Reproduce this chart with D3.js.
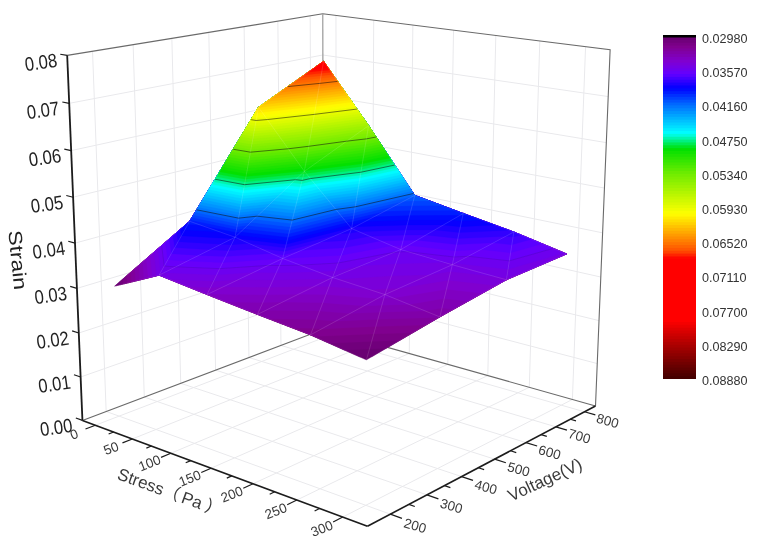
<!DOCTYPE html>
<html><head><meta charset="utf-8">
<script src="https://cdn.jsdelivr.net/npm/d3@7"></script>
<style>html,body{margin:0;padding:0;background:#fff}svg{display:block;filter:blur(.4px)}text{font-family:"Liberation Sans",Arial,sans-serif}</style>
</head><body><svg id="c" width="758" height="548"></svg>
<script>
// ---- data ----
const stressValues=[0,60,120,180,240,300];
const voltageValues=[200,400,600,800];
const strainAt200V=[.0297,.0350,.0337,.0325,.0314,.0296];
const strainAt400V=[.0394,.0383,.0362,.0348,.0340,.0323];
const strainAt600V=[.0618,.0489,.0380,.0358,.0351,.0346];
const strainAt800V=[.0695,.0558,.0412,.0393,.0375,.0351];
const strainRows=[strainAt200V,strainAt400V,strainAt600V,strainAt800V];
const stressTicks=[0,50,100,150,200,250,300];
const stressMinor=[25,75,125,175,225,275];
const voltageTicks=[200,300,400,500,600,700,800];
const voltageMinor=[250,350,450,550,650,750];
const strainTicks=[0,.01,.02,.03,.04,.05,.06,.07,.08];
const legendLabels=["0.02980","0.03570","0.04160","0.04750","0.05340","0.05930","0.06520","0.07110","0.07700","0.08290","0.08880"];
const colorValues=[.0298,.0315,.0340,.0362,.0386,.0416,.0464,.0491,.0534,.0603,.0638,.0667,.0680,.0788,.0810,.0888];
const colorStops=["#66006e","#80008e","#8000d0","#6400ff","#0000ff","#0070ff","#00ffff","#00e000","#70ec00","#ffff00","#ffa000","#ff5000","#ff0000","#ff0000","#d00000","#400000"];
const contourLevels=[.0357,.0416,.0475,.0534,.0593,.0652];
// ---- camera: cube corners to their places on the page ----
const cornersModel=[[0,0,0],[1,0,0],[1,1,0],[0,1,0],[0,0,1],[0,1,1],[1,1,1]];
const cornersScreen=[[83,421],[367,526],[596,406],[323,329],[67,55],[323,14],[610,50]];
const sU=d3.scaleLinear([-18,326],[0,1]),sV=d3.scaleLinear([140,840],[0,1]),sW=d3.scaleLinear([0,.08],[0,1]);
function solve(A,b){const n=b.length;const M=A.map((r,i)=>[...r,b[i]]);for(let c=0;c<n;c++){let q=c;for(let r=c+1;r<n;r++)if(Math.abs(M[r][c])>Math.abs(M[q][c]))q=r;[M[c],M[q]]=[M[q],M[c]];for(let r=0;r<n;r++){if(r==c)continue;const f=M[r][c]/M[c][c];for(let k=c;k<=n;k++)M[r][k]-=f*M[c][k];}}return M.map((r,i)=>r[n]/r[i]);}
const eqs=[],rhs=[];cornersModel.forEach(([X,Y,Z],i)=>{const [x,y]=cornersScreen[i];eqs.push([X,Y,Z,1,0,0,0,0,-x*X,-x*Y,-x*Z]);rhs.push(x);eqs.push([0,0,0,0,X,Y,Z,1,-y*X,-y*Y,-y*Z]);rhs.push(y);});
const p=solve(d3.range(11).map(i=>d3.range(11).map(j=>d3.sum(eqs,r=>r[i]*r[j]))),d3.range(11).map(i=>d3.sum(eqs,(r,k)=>r[i]*rhs[k])));
function prU([U,V,W]){const d=p[8]*U+p[9]*V+p[10]*W+1;return [(p[0]*U+p[1]*V+p[2]*W+p[3])/d,(p[4]*U+p[5]*V+p[6]*W+p[7])/d];}
const pr=(s,v,z)=>prU([sU(s),sV(v),sW(z)]);
const line=d3.line();
const svg=d3.select("#c");
const seg=(pts,o)=>{const e=svg.append("path").attr("d",line(pts)).attr("fill","none");for(const k in o)e.attr(k,o[k]);return e;};
// ---- walls and floor ----
const sLo=sU.invert(0),sHi=sU.invert(1),vLo=sV.invert(0),vHi=sV.invert(1),zHi=sW.invert(1);
const gridStyle={stroke:"#e9e9ec","stroke-width":1};
stressTicks.forEach(s=>{seg([pr(s,vLo,0),pr(s,vHi,0)],gridStyle);seg([pr(s,vHi,0),pr(s,vHi,zHi)],gridStyle);});
voltageTicks.forEach(v=>{seg([pr(sLo,v,0),pr(sHi,v,0)],gridStyle);seg([pr(sLo,v,0),pr(sLo,v,zHi)],gridStyle);});
strainTicks.slice(1,-1).forEach(z=>{seg([pr(sLo,vLo,z),pr(sLo,vHi,z),pr(sHi,vHi,z)],gridStyle);});
const edge={stroke:"#6a6a6a","stroke-width":1.1};
seg([pr(sLo,vLo,zHi),pr(sLo,vHi,zHi),pr(sHi,vHi,zHi),pr(sHi,vHi,0)],edge);
seg([pr(sLo,vLo,0),pr(sLo,vHi,0),pr(sHi,vHi,0)],edge);
seg([pr(sLo,vHi,0),pr(sLo,vHi,zHi)],{stroke:"#a8a8a8","stroke-width":1.4});
// ---- surface ----
const colorOf=d3.scaleLinear(colorValues,colorStops).interpolate(d3.interpolateRgb).clamp(true);
const bandStep=.0059/12;
const bandEdges=d3.range(0,121).map(i=>.0298+i*bandStep);
const tris=[];
for(let j=0;j<voltageValues.length-1;j++)for(let i=0;i<stressValues.length-1;i++){
 const P=(a,b)=>[stressValues[a],voltageValues[b],strainRows[b][a]];
 tris.push([P(i,j),P(i+1,j),P(i,j+1)]);
 tris.push([P(i+1,j),P(i+1,j+1),P(i,j+1)]);
}
const lerp=(a,b,t)=>a.map((c,k)=>c+(b[k]-c)*t);
function clipAbove(poly,level){const out=[];poly.forEach((a,i)=>{const b=poly[(i+1)%poly.length];const ia=a[2]>=level,ib=b[2]>=level;if(ia)out.push(a);if(ia!==ib)out.push(lerp(a,b,(level-a[2])/(b[2]-a[2])));});return out;}
// bands are painted low to high, each covering everything above its own lower level
const toPath=g=>line(g.map(q=>pr(...q)))+"Z";
const surfaceLayers=[{lo:0,c:colorOf(.0298)},...bandEdges.slice(0,-1).map(lo=>({lo,c:colorOf(lo+bandStep/2)}))]
 .map(b=>({c:b.c,d:tris.map(t=>clipAbove(t,b.lo)).filter(g=>g.length>2).map(toPath).join("")})).filter(b=>b.d);
svg.append("g").selectAll("path").data(surfaceLayers).join("path")
 .attr("d",d=>d.d).attr("fill",d=>d.c).attr("stroke",d=>d.c).attr("stroke-width",.3);
// mesh lines
const meshG=svg.append("g").attr("fill","none").attr("stroke","#fff").attr("stroke-opacity",.08).attr("stroke-width",.9);
tris.forEach(t=>meshG.append("path").attr("d",toPath(t)));
// contours
const contourG=svg.append("g").attr("fill","none").attr("stroke","#111").attr("stroke-width",.9);
contourLevels.forEach((lv,n)=>{const segs=[];tris.forEach(t=>{const c=[];t.forEach((a,i)=>{const b=t[(i+1)%3];if((a[2]-lv)*(b[2]-lv)<0)c.push(lerp(a,b,(lv-a[2])/(b[2]-a[2])));});if(c.length==2)segs.push(line(c.map(q=>pr(...q))));});
 contourG.append("path").attr("d",segs.join("")).attr("stroke-opacity",n==0?.12:.6);});
// ---- axes ----
const axisStyle={stroke:"#1c1c1c","stroke-width":1.6};
seg([pr(sLo,vLo,0),pr(sLo,vLo,zHi)],{stroke:"#1c1c1c","stroke-width":1.8});
seg([pr(sLo,vLo,0),pr(sHi,vLo,0)],axisStyle);
seg([pr(sHi,vLo,0),pr(sHi,vHi,0)],axisStyle);
const tk={stroke:"#1c1c1c","stroke-width":1.2};
const vT=v=>sV.invert(v);
stressTicks.forEach(s=>seg([pr(s,vLo,0),pr(s,vT(-.035),0)],tk));
stressMinor.forEach(s=>seg([pr(s,vLo,0),pr(s,vT(-.018),0)],tk));
voltageTicks.forEach(v=>seg([pr(sHi,v,0),pr(sU.invert(1.035),v,0)],tk));
voltageMinor.forEach(v=>seg([pr(sHi,v,0),pr(sU.invert(1.018),v,0)],tk));
strainTicks.forEach(z=>seg([pr(sLo,vLo,z),pr(sU.invert(-.027),vLo,z)],tk));
const label=(x,y,rot,sx,size,txt,fill,anchor)=>svg.append("text").attr("transform",`translate(${x},${y}) rotate(${rot}) scale(${sx},1)`)
 .attr("text-anchor",anchor||"middle").attr("dominant-baseline","central").style("font-size",size+"px").attr("fill",fill||"#2e2e2e").text(txt);
const fmt=d3.format(".2f");
strainTicks.forEach(z=>{const [x,y]=pr(sLo,vLo,z);label(x-10,y+5,-8,.86,19.5,fmt(z),"#222","end");});
stressTicks.forEach(s=>{const [x,y]=pr(s,vT(-.075),0);label(x,y+1,-21,1,13.5,s,"#3a3a3a");});
voltageTicks.forEach(v=>{const [x,y]=pr(sU.invert(1.08),v,0);label(x-2,y+2,16,1,13.5,v,"#3a3a3a");});
const stressTitle=label(170,492,20,1,17,"","#3a3a3a").style("font-family","'Liberation Sans','Noto Sans CJK SC',sans-serif");
stressTitle.append("tspan").text("Stress");
stressTitle.append("tspan").attr("letter-spacing","3px").text("（");
stressTitle.append("tspan").attr("letter-spacing","0").text("Pa");
stressTitle.append("tspan").attr("dx","4").text("）");
label(545,480,-25,1,17,"Voltage(V)","#3a3a3a");
label(18,260,84,1.2,19,"Strain","#222");
// ---- colour legend: each band runs to the foot of the bar and the next paints over it ----
const legY=d3.scaleLinear([.0298,.0888],[37,379]);
svg.append("g").selectAll("rect").data(bandEdges.slice(0,-1)).join("rect")
 .attr("x",663).attr("width",33).attr("y",d=>legY(d)).attr("height",d=>legY(.0888)-legY(d))
 .attr("fill",d=>colorOf(d+bandStep/2));
svg.append("rect").attr("x",663).attr("y",35).attr("width",33).attr("height",2.5).attr("fill","#000");
svg.append("g").selectAll("text").data(legendLabels).join("text")
 .attr("x",702).attr("y",(d,i)=>legY(+d)+2).attr("dominant-baseline","central").style("font-size","12.6px").attr("fill","#333").text(d=>d);
</script></body></html>
